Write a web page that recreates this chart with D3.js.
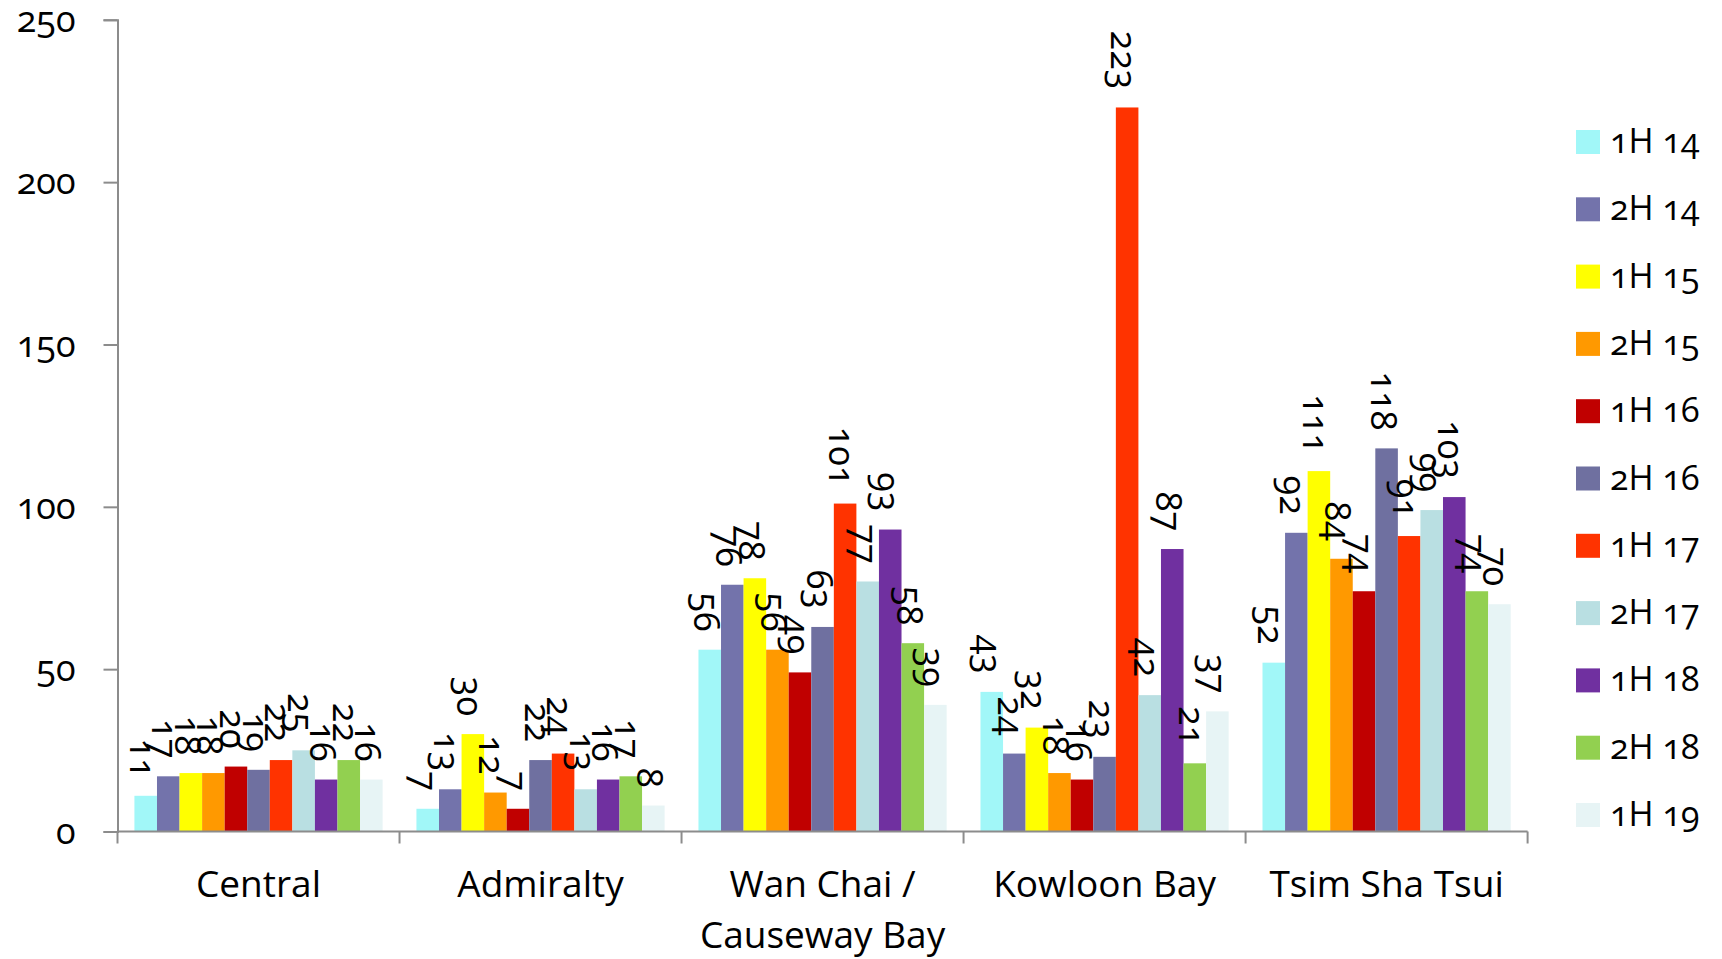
<!DOCTYPE html>
<html>
<head>
<meta charset="utf-8">
<script src="https://cdn.jsdelivr.net/npm/d3@7"></script>
<style>
  html, body { margin: 0; padding: 0; background: #fff; }
  svg { display: block; font-family: "Open Sans", sans-serif; font-variant-numeric: oldstyle-nums; font-feature-settings: "onum" 1; }
</style>
</head>
<body>
<svg id="chart" width="1722" height="959"></svg>
<script>
// Office stock by district, half-yearly periods
const districts = ["Central", "Admiralty", "Wan Chai / Causeway Bay", "Kowloon Bay", "Tsim Sha Tsui"];
const districtLines = [["Central"], ["Admiralty"], ["Wan Chai /", "Causeway Bay"], ["Kowloon Bay"], ["Tsim Sha Tsui"]];
const periods = ["1H 14", "2H 14", "1H 15", "2H 15", "1H 16", "2H 16", "1H 17", "2H 17", "1H 18", "2H 18", "1H 19"];
const periodColors = ["#A1F7F8", "#7373AB", "#FFFF00", "#FF9900", "#C00000", "#6F70A0", "#FF3300", "#B9DFE2", "#7030A0", "#92D050", "#E7F4F5"];

// one array per district, in period order
const centralValues    = [11, 17, 18, 18, 20, 19, 22, 25, 16, 22, 16];
const admiraltyValues  = [7, 13, 30, 12, 7, 22, 24, 13, 16, 17, 8];
const wanChaiValues    = [56, 76, 78, 56, 49, 63, 101, 77, 93, 58, 39];
const kowloonBayValues = [43, 24, 32, 18, 16, 23, 223, 42, 87, 21, 37];
const tstValues        = [52, 92, 111, 84, 74, 118, 91, 99, 103, 74, 70];
const yTicks = [0, 50, 100, 150, 200, 250];

const valuesByDistrict = [centralValues, admiraltyValues, wanChaiValues, kowloonBayValues, tstValues];

const svg = d3.select("#chart");
const plotLeft = 117.5, plotRight = 1527.6, plotTop = 19.8, plotBottom = 831.5;

const x0 = d3.scaleBand().domain(districts).range([plotLeft, plotRight]).paddingInner(0).paddingOuter(0);
const x1 = d3.scaleBand().domain(periods).range([0, x0.bandwidth()]).paddingInner(0).paddingOuter(0.75);
const y = d3.scaleLinear().domain([0, 250]).range([plotBottom, plotTop]);
const color = d3.scaleOrdinal().domain(periods).range(periodColors);

const axisColor = "#8C8C8C";

// y axis
const yAxis = d3.axisLeft(y).tickValues(yTicks).tickSize(14).tickPadding(28).tickFormat(d3.format("d"));
const gy = svg.append("g").attr("transform", `translate(${plotLeft},0)`).call(yAxis);
gy.select(".domain").attr("stroke", axisColor).attr("stroke-width", 2);
gy.selectAll(".tick line").attr("stroke", axisColor).attr("stroke-width", 2);
gy.selectAll(".tick text").attr("font-size", 36).attr("fill", "#000").attr("font-family", "'Open Sans', sans-serif");

// bars
const groups = svg.append("g").selectAll("g")
  .data(districts.map((d, i) => ({ district: d, values: valuesByDistrict[i] })))
  .join("g")
  .attr("transform", d => `translate(${x0(d.district)},0)`);

const cells = d => d.values.map((v, j) => ({ period: periods[j], value: v }));

groups.selectAll("rect")
  .data(cells)
  .join("rect")
  .attr("x", d => x1(d.period))
  .attr("y", d => y(d.value))
  .attr("width", x1.bandwidth())
  .attr("height", d => y(0) - y(d.value))
  .attr("fill", d => color(d.period));

// value labels, rotated to read downward, ending just above each bar
groups.selectAll("text")
  .data(cells)
  .join("text")
  .attr("transform", d => `translate(${x1(d.period) + x1.bandwidth() / 2 - 16},${y(d.value) - 18}) rotate(90)`)
  .attr("text-anchor", "end")
  .attr("font-size", 36)
  .attr("fill", "#000")
  .text(d => d.value);

// x axis with ticks at group boundaries
const gx = svg.append("g");
gx.append("line")
  .attr("x1", plotLeft).attr("x2", plotRight).attr("y1", plotBottom).attr("y2", plotBottom)
  .attr("stroke", axisColor).attr("stroke-width", 2);
const boundaries = districts.map(d => x0(d)).concat([x0(districts[districts.length - 1]) + x0.bandwidth()]);
gx.selectAll("line.tick")
  .data(boundaries)
  .join("line")
  .attr("class", "tick")
  .attr("x1", d => d).attr("x2", d => d)
  .attr("y1", plotBottom).attr("y2", plotBottom + 12)
  .attr("stroke", axisColor).attr("stroke-width", 2);

gx.selectAll("text.cat")
  .data(districts)
  .join("text")
  .attr("class", "cat")
  .attr("text-anchor", "middle")
  .attr("font-size", 37)
  .attr("fill", "#000")
  .each(function (d, i) {
    const t = d3.select(this);
    districtLines[i].forEach((line, k) => {
      t.append("tspan")
        .attr("x", x0(d) + x0.bandwidth() / 2)
        .attr("y", 897 + k * 51)
        .text(line);
    });
  });

// legend
const legend = svg.append("g").attr("transform", "translate(1576,130)");
const items = legend.selectAll("g")
  .data(periods)
  .join("g")
  .attr("transform", (d, i) => `translate(0,${i * 67.3})`);
items.append("rect")
  .attr("width", 24).attr("height", 24)
  .attr("fill", d => color(d));
items.append("text")
  .attr("x", 34).attr("y", 23)
  .attr("font-size", 34)
  .attr("fill", "#000")
  .text(d => d);
</script>
</body>
</html>
